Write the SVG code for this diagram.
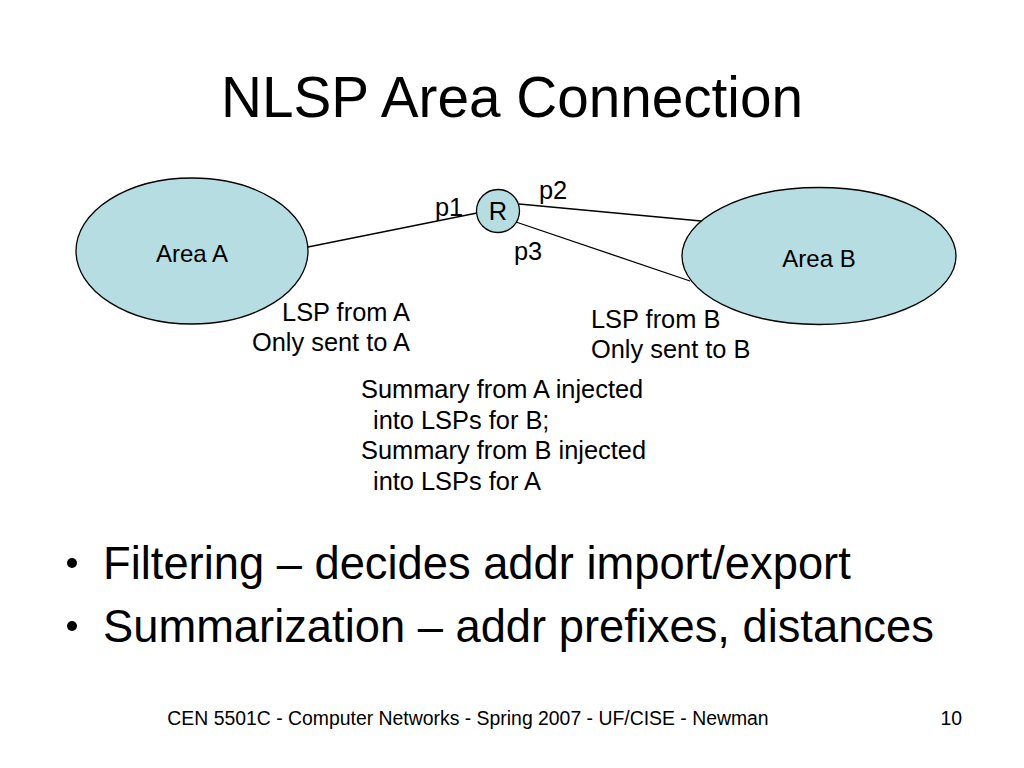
<svg xmlns="http://www.w3.org/2000/svg" width="1024" height="768" viewBox="0 0 1024 768">
<style>
text{font-family:"Liberation Sans",Arial,sans-serif;fill:#000}
.area{fill:#b6dde1;stroke:#000;stroke-width:1.3}
.lnk{stroke:#000;stroke-width:1.3;fill:none}
.d{font-size:25.4px}
.lab{font-size:24px}
.b{font-size:45.3px}
</style>
<rect width="1024" height="768" fill="#fff"/>
<text x="512" y="117" font-size="56.7" text-anchor="middle">NLSP Area Connection</text>
<g id="connectors">
<line class="lnk" x1="308" y1="247" x2="477" y2="213"/>
<line class="lnk" x1="519" y1="204" x2="701" y2="221"/>
<line class="lnk" x1="516" y1="222" x2="690" y2="281"/>
</g>
<g id="areaA">
<ellipse class="area" cx="192" cy="251" rx="116" ry="73"/>
<text class="lab" x="192" y="262" text-anchor="middle">Area A</text>
</g>
<g id="areaB">
<ellipse class="area" cx="819" cy="256" rx="137" ry="68.5"/>
<text class="lab" x="819" y="267" text-anchor="middle">Area B</text>
</g>
<g id="R">
<circle class="area" cx="498" cy="211" r="21.5"/>
<text class="d" x="498" y="220" text-anchor="middle">R</text>
</g>
<g id="labels">
<text class="d" x="449" y="216" text-anchor="middle">p1</text>
<text class="d" x="553" y="199" text-anchor="middle">p2</text>
<text class="d" x="528" y="260" text-anchor="middle">p3</text>
<text class="d" x="410" y="321" text-anchor="end">LSP from A</text>
<text class="d" x="410" y="351" text-anchor="end">Only sent to A</text>
<text class="d" x="591" y="328">LSP from B</text>
<text class="d" x="591" y="358">Only sent to B</text>
<text class="d" x="361" y="398">Summary from A injected</text>
<text class="d" x="373" y="428.5">into LSPs for B;</text>
<text class="d" x="361" y="459">Summary from B injected</text>
<text class="d" x="373" y="489.5">into LSPs for A</text>
</g>
<g id="bullets">
<circle cx="72" cy="563" r="5"/>
<text class="b" x="103" y="579">Filtering – decides addr import/export</text>
<circle cx="72" cy="626" r="5"/>
<text class="b" x="103" y="642">Summarization – addr prefixes, distances</text>
</g>
<g id="footer">
<text x="468" y="725" font-size="19.4" text-anchor="middle">CEN 5501C - Computer Networks - Spring 2007 - UF/CISE - Newman</text>
<text x="962" y="725" font-size="19.4" text-anchor="end">10</text>
</g>
</svg>
